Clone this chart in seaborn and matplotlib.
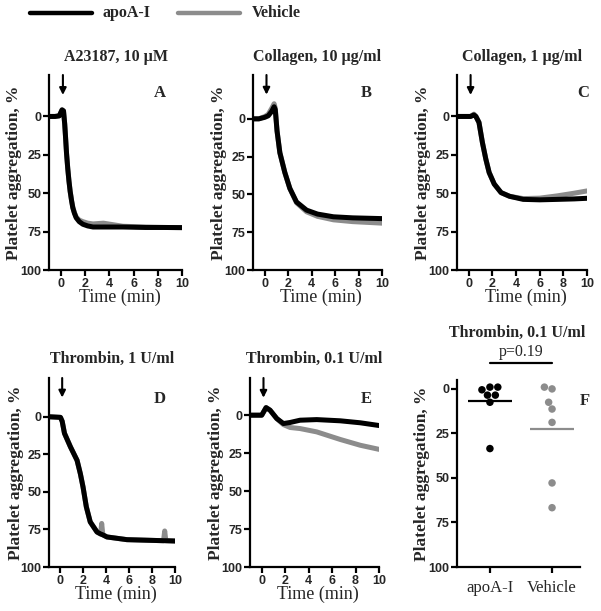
import numpy as np
import pandas as pd
import matplotlib
matplotlib.use("Agg")
import matplotlib.pyplot as plt
from matplotlib.lines import Line2D
import seaborn as sns

sns.set_style("ticks")
SERIF = "Liberation Serif"
SANS = "Liberation Sans"
plt.rcParams["font.family"] = [SERIF, "DejaVu Serif"]

BLACK = "#000000"
GRAY = "#8c8c8c"

# ---------------- data ----------------
A_t = [-1, -0.5, -0.15, 0.08, 0.2, 0.3, 0.36, 0.45, 0.55, 0.65, 0.75, 0.87, 0.97,
       1.1, 1.25, 1.5, 1.8, 2.2, 2.64, 3.5, 5.1, 7, 8.5, 10]
A_apo = [0, 0, -0.4, -4.3, -3.6, 5, 12.4, 24, 33.8, 42, 48.8, 55, 59.5,
         63, 66, 68.5, 70.2, 71.3, 72, 72, 72, 72.3, 72.3, 72.4]
A_veh = [0, 0, -0.4, -4.3, -3.6, 5, 12.4, 24, 33.8, 42, 48.8, 55, 59,
         62.5, 65.5, 67.5, 68.5, 69.5, 70, 69.5, 71.5, 72, 72.3, 72.4]

B_t = [-1, -0.5, 0, 0.3, 0.6, 0.8, 0.9, 1.05, 1.29, 1.71, 2.14, 2.71, 3.57, 4.5, 5.86, 7.5, 10]
B_apo = [0, 0, -1, -2, -5, -8, -6, 8, 22.4, 35.4, 46, 55, 60.4, 63, 64.8, 65.5, 66]
B_veh = [0, 0, -1.5, -3, -7, -10, -7, 8, 22.4, 35.4, 46, 55.5, 61.5, 64.5, 66.8, 68, 69]

C_t = [-1, 0, 0.15, 0.43, 0.6, 0.86, 1.15, 1.44, 1.72, 2.15, 2.73, 3.45, 4.6, 6.0, 7.5, 8.9, 10]
C_apo = [0, 0, 0, -1, 0, 3.9, 17, 27.8, 36.5, 44, 49.6, 52, 54, 54.3, 54, 53.7, 53.3]
C_veh = [0, 0, 0, -1.5, 0, 3.9, 17, 27.8, 36.5, 44, 49.6, 52, 53.5, 53.2, 51.7, 50, 48.5]

D_t = [-1, 0, 0.15, 0.35, 0.87, 1.45, 1.74, 1.97, 2.26, 2.6, 3.19, 3.5, 3.6, 3.7,
       4.06, 5.8, 9.0, 9.1, 9.2, 10]
D_apo = [0, 0.4, 3, 11, 20, 29, 38, 46.7, 60, 70, 76.7, 78, 78.3, 78.6,
         80, 81.8, 82.5, 82.5, 82.5, 82.7]
D_veh = [0, 0.4, 3, 11, 20, 29, 38, 46.7, 60, 70, 76.7, 78, 71, 78.6,
         80, 81.8, 82.5, 76, 82.5, 82.7]

E_t = [-1, 0, 0.37, 0.71, 1.28, 1.85, 2.42, 3.27, 4.69, 6.7, 8.4, 10]
E_apo = [0, 0, -5, -3.3, 2.2, 5.5, 4.8, 3.3, 2.9, 3.7, 5, 6.8]
E_veh = [0, 0, -5, -3.3, 2.2, 6.2, 8.1, 8.8, 11, 16, 19.8, 22.5]

F_apo = [-1, -1, 0.5, 3.5, 3.5, 7.5, 33.5]
F_veh = [-1, 0, 7.5, 11.3, 18.8, 52.8, 66.7]

groups = ["apoA-I", "Vehicle"]
titles = ["A23187, 10 \u00b5M", "Collagen, 10 \u00b5g/ml", "Collagen, 1 \u00b5g/ml",
          "Thrombin, 1 U/ml", "Thrombin, 0.1 U/ml", "Thrombin, 0.1 U/ml"]
letters = ["A", "B", "C", "D", "E", "F"]
y_ticks = [0, 25, 50, 75, 100]
x_ticks = [0, 2, 4, 6, 8, 10]
p_text = "p=0.19"

# ---------------- figure ----------------
W, H = 601, 611
fig = plt.figure(figsize=(W / 100, H / 100), dpi=100)


def rect(l, r, t, b):
    return [l / W, 1 - b / H, (r - l) / W, (b - t) / H]


axA = fig.add_axes(rect(49, 182, 75, 270))
axB = fig.add_axes(rect(253, 382, 75, 270))
axC = fig.add_axes(rect(457, 587, 75, 270))
axD = fig.add_axes(rect(49, 175, 378, 567))
axE = fig.add_axes(rect(250, 379, 378, 567))
axF = fig.add_axes(rect(457, 580, 380, 567))

LW = 3.6
TICK_FS = 9


def style_axes(ax):
    sns.despine(ax=ax)
    for s in ["left", "bottom"]:
        ax.spines[s].set_linewidth(1.6)
        ax.spines[s].set_color("black")
    ax.tick_params(axis="both", width=1.6, length=4, labelsize=TICK_FS, pad=1.5, color="black")
    for lab in ax.get_xticklabels() + ax.get_yticklabels():
        lab.set_fontweight("bold")
        lab.set_family(SANS)


def curve_panel(ax, t, apo, veh, ymin, title, letter, lx, ly, title_y, xl_y):
    dv = pd.DataFrame({"t": t, "v": veh})
    da = pd.DataFrame({"t": t, "v": apo})
    sns.lineplot(data=dv, x="t", y="v", ax=ax, color=GRAY, linewidth=LW,
                 estimator=None, sort=False)
    sns.lineplot(data=da, x="t", y="v", ax=ax, color=BLACK, linewidth=LW,
                 estimator=None, sort=False)
    ax.set_xlim(-1, 10)
    ax.set_ylim(100, ymin)
    ax.set_xticks(x_ticks)
    ax.set_yticks(y_ticks)
    ax.set_xticklabels([str(v) for v in x_ticks])
    ax.set_yticklabels([str(v) for v in y_ticks])
    style_axes(ax)
    ax.set_xlabel("Time (min)", fontsize=13, family=SERIF)
    ax.xaxis.set_label_coords(0.53, xl_y)
    ax.set_ylabel("Platelet aggregation, %", fontsize=12.5, fontweight="bold", family=SERIF)
    ax.yaxis.set_label_coords(-0.2, 0.5)
    ax.text(0.5, title_y, title, transform=ax.transAxes, ha="center", va="center",
            fontsize=11.5, fontweight="bold", family=SERIF)
    ax.text(lx, ly, letter, transform=ax.transAxes, ha="center", va="center",
            fontsize=12, fontweight="bold", family=SERIF)
    # stimulus arrow
    ax.annotate("", xy=(0.15, ymin + 13), xytext=(0.15, ymin),
                arrowprops=dict(arrowstyle="-|>", color="black", lw=1.5,
                                mutation_scale=10, shrinkA=0, shrinkB=0))


curve_panel(axA, A_t, A_apo, A_veh, -27, titles[0], letters[0], 0.83, 0.91, 1.092, -0.097)
curve_panel(axB, B_t, B_apo, B_veh, -29, titles[1], letters[1], 0.88, 0.91, 1.092, -0.097)
curve_panel(axC, C_t, C_apo, C_veh, -27, titles[2], letters[2], 0.97, 0.91, 1.092, -0.097)
curve_panel(axD, D_t, D_apo, D_veh, -25.8, titles[3], letters[3], 0.88, 0.89, 1.10, -0.1)
curve_panel(axE, E_t, E_apo, E_veh, -24.5, titles[4], letters[4], 0.90, 0.89, 1.10, -0.1)

# ---------------- panel F ----------------
dfF = pd.DataFrame({"group": [groups[0]] * len(F_apo) + [groups[1]] * len(F_veh),
                    "v": F_apo + F_veh})
sns.swarmplot(data=dfF, x="group", y="v", hue="group", order=groups,
              palette={groups[0]: BLACK, groups[1]: GRAY}, size=5.4, ax=axF,
              legend=False, linewidth=0)
means = dfF.groupby("group")["v"].mean()
for i, g in enumerate(groups):
    axF.hlines(means[g], i - 0.35, i + 0.35, color=BLACK if i == 0 else GRAY, lw=1.6)
axF.set_xlim(-0.53, 1.45)
axF.set_ylim(100, -5)
axF.set_yticks(y_ticks)
axF.set_yticklabels([str(v) for v in y_ticks])
style_axes(axF)
for lab in axF.get_xticklabels():
    lab.set_fontweight("normal")
    lab.set_family(SERIF)
    lab.set_fontsize(12)
axF.tick_params(axis="x", pad=5)
axF.set_xlabel("")
axF.set_ylabel("Platelet aggregation, %", fontsize=12.5, fontweight="bold", family=SERIF)
axF.yaxis.set_label_coords(-0.22, 0.5)
axF.text(1.04, 0.89, letters[5], transform=axF.transAxes, ha="center", va="center",
         fontsize=12, fontweight="bold", family=SERIF)
axF.plot([0, 1], [-14.5, -14.5], color="black", lw=1.6, clip_on=False)
axF.text(0.5, -20.5, p_text, ha="center", va="center", fontsize=11.5, family=SERIF)
axF.text(0.49, 1.25, titles[5], transform=axF.transAxes, ha="center", va="center",
         fontsize=11.5, fontweight="bold", family=SERIF)

# ---------------- legend ----------------
ly = 1 - 13 / H
fig.add_artist(Line2D([30 / W, 92 / W], [ly, ly], transform=fig.transFigure,
                      color=BLACK, lw=3.2))
fig.add_artist(Line2D([178 / W, 240 / W], [ly, ly], transform=fig.transFigure,
                      color=GRAY, lw=3.2))
fig.text(103 / W, ly, groups[0], ha="left", va="center", fontsize=11.5,
         fontweight="bold", family=SERIF)
fig.text(252 / W, ly, groups[1], ha="left", va="center", fontsize=11.5,
         fontweight="bold", family=SERIF)

fig.savefig("out.png", dpi=100)
